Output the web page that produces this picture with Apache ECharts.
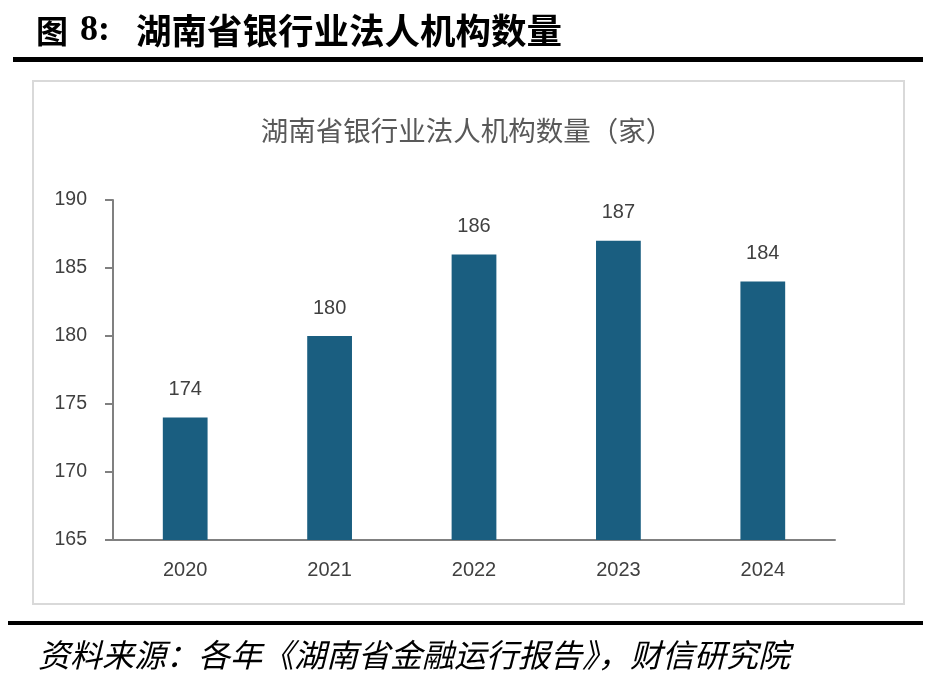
<!DOCTYPE html>
<html><head><meta charset="utf-8">
<script src="https://cdn.jsdelivr.net/npm/echarts@6/dist/echarts.min.js"></script>
<style>html,body{margin:0;padding:0;background:#fff}#c{width:934px;height:684px}</style>
</head><body><div id="c"></div>
<script>
const categories = ['2020','2021','2022','2023','2024'];
const values = [174, 180, 186, 187, 184];
const yTicks = [165, 170, 175, 180, 185, 190];
const headerFig = '图';
const headerNum = '8:';
const headerText = '湖南省银行业法人机构数量';
const chartTitle = '湖南省银行业法人机构数量（家）';
const sourceText = '资料来源：各年《湖南省金融运行报告》，财信研究院';

const chart = echarts.init(document.getElementById('c'));
chart.setOption({
  animation: false,
  backgroundColor: '#fff',
  title: {
    text: chartTitle, left: 'center', top: 112,
    textStyle: {fontFamily: 'Noto Sans CJK SC', fontSize: 27.5, fontWeight: 'normal', color: '#595959'}
  },
  grid: {left: 113, right: 99, top: 200, bottom: 144},
  xAxis: {
    type: 'category', data: categories,
    axisLine: {lineStyle: {color: '#808080', width: 2}},
    axisTick: {show: false},
    axisLabel: {fontFamily: 'Liberation Sans', fontSize: 20, color: '#404040', margin: 20}
  },
  yAxis: {
    type: 'value', min: yTicks[0], max: yTicks[yTicks.length-1], interval: 5,
    axisLine: {show: true, lineStyle: {color: '#808080', width: 2}},
    axisTick: {show: true, length: 8, lineStyle: {color: '#808080', width: 2}},
    splitLine: {show: false},
    axisLabel: {fontFamily: 'Liberation Sans', fontSize: 19.5, color: '#404040', margin: 26}
  },
  series: [{
    type: 'bar', data: values, barWidth: '31%',
    itemStyle: {color: '#1a5e80'},
    label: {show: true, position: 'top', distance: 18, fontFamily: 'Liberation Sans', fontSize: 20, color: '#404040'}
  }],
  graphic: [
    {type: 'text', style: {x: 36, y: 31, text: headerFig, verticalAlign: 'middle', fontFamily: 'Noto Sans CJK SC', fontWeight: 'bold', fontSize: 32, fill: '#000'}},
    {type: 'text', style: {x: 80, y: 31, text: headerNum, verticalAlign: 'middle', fontFamily: 'Liberation Serif', fontWeight: 'bold', fontSize: 36, fill: '#000'}},
    {type: 'text', style: {x: 136, y: 31, text: headerText, verticalAlign: 'middle', fontFamily: 'Noto Sans CJK SC', fontWeight: 'bold', fontSize: 35.5, fill: '#000'}},
    {type: 'rect', shape: {x: 13, y: 57, width: 910, height: 5}, style: {fill: '#000'}},
    {type: 'rect', shape: {x: 33, y: 81, width: 871, height: 523}, style: {fill: 'none', stroke: '#d9d9d9', lineWidth: 2}, z: -1},
    {type: 'rect', shape: {x: 8, y: 621, width: 915, height: 4}, style: {fill: '#000'}},
    {type: 'text', style: {x: 38, y: 655, text: sourceText, verticalAlign: 'middle', fontFamily: 'Noto Sans CJK SC', fontStyle: 'italic', fontSize: 32, fill: '#000'}}
  ]
});
</script></body></html>
